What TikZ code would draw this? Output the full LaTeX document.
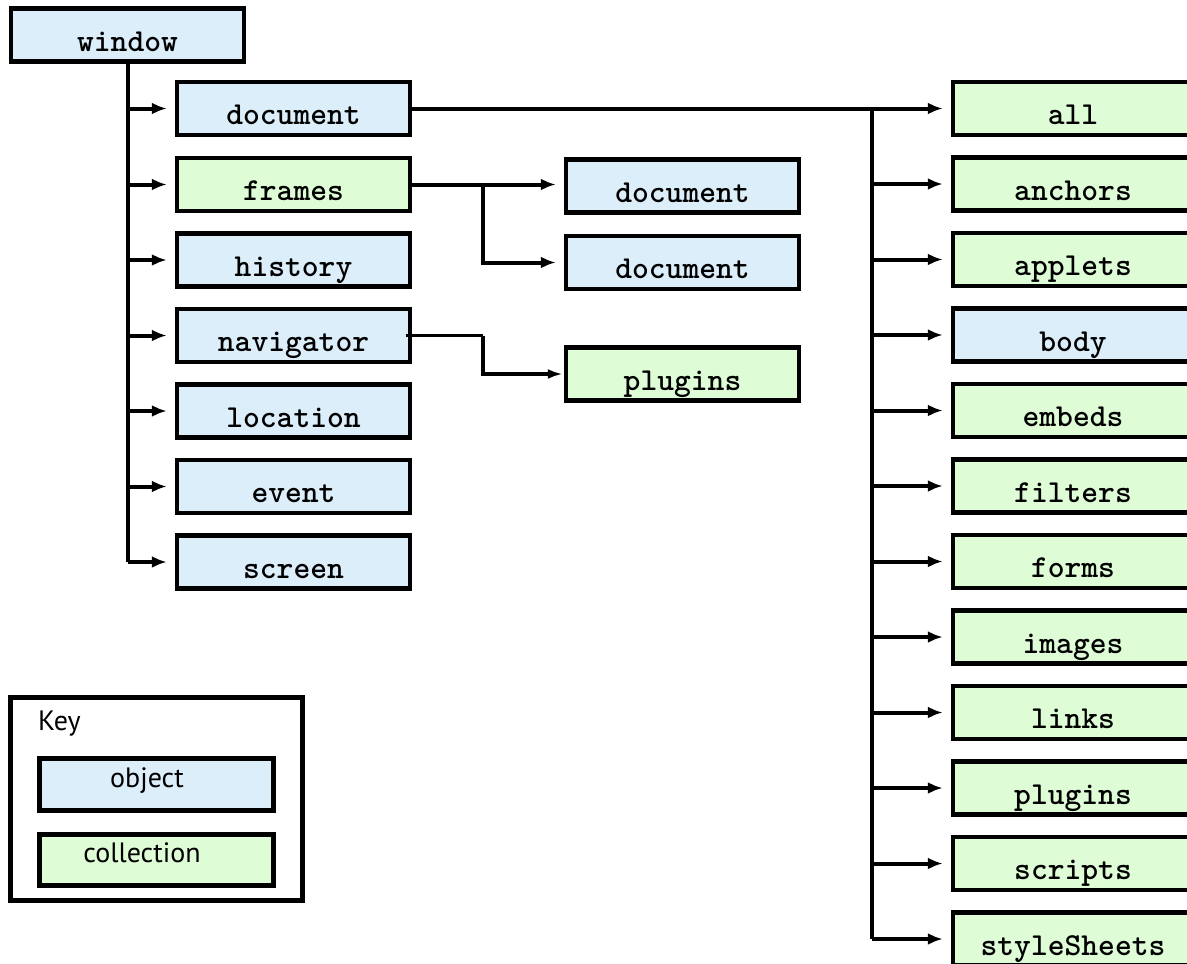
\documentclass[tikz,border=0pt]{standalone}
\usepackage{fontspec}
\newfontfamily\keyfont{PT Sans}
\usetikzlibrary{arrows.meta}
\definecolor{objblue}{RGB}{220,238,250}
\definecolor{colgreen}{RGB}{222,253,214}
\begin{document}
\begin{tikzpicture}[x=1pt,y=-1pt,
  basebox/.style={draw=black,line width=4.5pt,rectangle,inner sep=0pt,
    minimum width=233pt,minimum height=53pt,
    font=\ttfamily\bfseries\fontsize{32}{34}\selectfont,
    text height=32pt,text depth=0pt},
  obj/.style={basebox,fill=objblue},
  coll/.style={basebox,fill=colgreen},
  robj/.style={obj,minimum width=240pt},
  rcoll/.style={coll,minimum width=240pt},
  conn/.style={line width=4pt},
  arr/.style={conn,-{Latex[length=15pt,width=12pt]},shorten >=8pt},
  thinarr/.style={line width=3.5pt,-{Latex[length=15pt,width=10pt]},shorten >=1pt},
  keytext/.style={font=\keyfont\fontsize{28}{32}\selectfont,inner sep=0pt}
]
\useasboundingbox (0,0) rectangle (1187,964);

% left column
\node[obj] (win) at (127.5,35) {window};
\node[obj] (doc) at (293.5,108.5) {document};
\node[coll] (frames) at (293.5,184.5) {frames};
\node[obj] (hist) at (293.5,260) {history};
\node[obj] (nav) at (293.5,335.5) {navigator};
\node[obj] (loc) at (293.5,411) {location};
\node[obj] (evt) at (293.5,486.5) {event};
\node[obj] (scr) at (293.5,562) {screen};

% frames / navigator children
\node[obj] (fd1) at (682.5,186) {document};
\node[obj] (fd2) at (682.5,262.5) {document};
\node[coll] (plug) at (682.5,374) {plugins};

% right column (boxes run past the right edge)
\node[rcoll] (all) at (1073,108.5) {all};
\node[rcoll] (anch) at (1073,184) {anchors};
\node[rcoll] (appl) at (1073,259.5) {applets};
\node[robj] (body) at (1073,335) {body};
\node[rcoll] (emb) at (1073,410.5) {embeds};
\node[rcoll] (filt) at (1073,486) {filters};
\node[rcoll] (forms) at (1073,561.5) {forms};
\node[rcoll] (img) at (1073,637) {images};
\node[rcoll] (links) at (1073,712.5) {links};
\node[rcoll] (rplug) at (1073,788) {plugins};
\node[rcoll] (scripts) at (1073,863.5) {scripts};
\node[rcoll] (ss) at (1073,939) {styleSheets};

% left trunk
\draw[conn] (win.south) -- (win.south |- scr.west);
\foreach \n in {doc,frames,hist,nav,loc,evt,scr}
  \draw[arr] (win.south |- \n.west) -- (\n.west);

% frames branch
\coordinate (fb) at (483,0);
\draw[arr] (frames.east) -- (frames.east -| fd1.west);
\draw[arr] (frames.east -| fb) |- (fd2.west);

% navigator branch
\draw[line width=3.5pt] ([xshift=-6pt]nav.east) -- (nav.east -| fb);
\draw[thinarr] (nav.east -| fb) |- (plug.west);

% right trunk
\coordinate (rt) at (872,108.5);
\draw[arr] (doc.east) -- (doc.east -| all.west);
\draw[conn] (rt) -- (rt |- ss.west);
\foreach \n in {anch,appl,body,emb,filt,forms,img,links,rplug,scripts,ss}
  \draw[arr] (rt |- \n.west) -- (\n.west);

% key
\node[draw=black,line width=4.5pt,inner sep=0pt,minimum width=292pt,minimum height=203pt] (keybox) at (156.5,799) {};
\node[keytext,anchor=base west] (keylbl) at (38,730) {Key};
\node[draw=black,line width=5pt,fill=objblue,inner sep=0pt,minimum width=234pt,minimum height=52pt] (kobj) at (156.5,784.5) {};
\node[keytext,anchor=base] (kobjt) at (147,787) {object};
\node[draw=black,line width=5pt,fill=colgreen,inner sep=0pt,minimum width=234pt,minimum height=51pt] (kcol) at (156.5,860) {};
\node[keytext,anchor=base] (kcolt) at (142,862) {collection};
\end{tikzpicture}
\end{document}
